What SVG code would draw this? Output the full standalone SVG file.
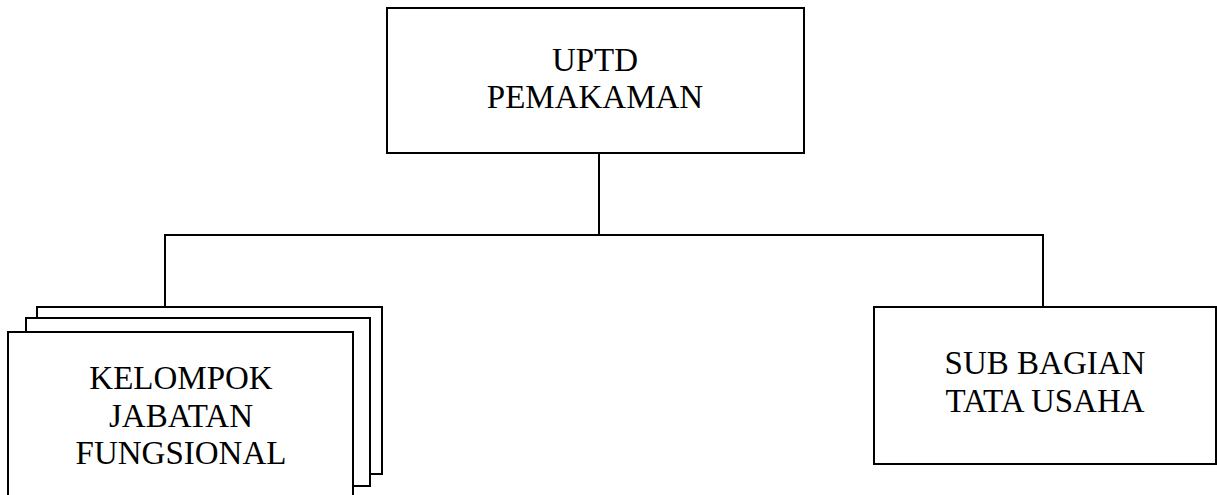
<svg xmlns="http://www.w3.org/2000/svg" width="1217" height="495" viewBox="0 0 1217 495">
<style>
.box{fill:#fff;stroke:#000;stroke-width:2}
.conn{fill:none;stroke:#000;stroke-width:2}
.t{font-family:"Liberation Serif","DejaVu Serif",serif;font-size:33px;fill:#000;text-anchor:middle}
</style>
<rect width="1217" height="495" fill="#fff"/>
<g id="connectors">
<line class="conn" x1="599" y1="153" x2="599" y2="235"/>
<polyline class="conn" points="165,307 165,235 1043,235 1043,307"/>
</g>
<g id="uptd">
<rect class="box" x="387" y="8" width="417" height="145"/>
<text class="t" x="595" y="71">UPTD</text>
<text class="t" x="595" y="108">PEMAKAMAN</text>
</g>
<g id="kelompok">
<rect class="box" x="37" y="307" width="345" height="167"/>
<rect class="box" x="26" y="318" width="344" height="168"/>
<rect class="box" x="8" y="332" width="345" height="175"/>
<text class="t" x="181" y="389">KELOMPOK</text>
<text class="t" x="181" y="427">JABATAN</text>
<text class="t" x="181" y="464">FUNGSIONAL</text>
</g>
<g id="subbagian">
<rect class="box" x="874" y="307" width="342" height="157"/>
<text class="t" x="1045" y="374">SUB BAGIAN</text>
<text class="t" x="1045" y="412">TATA USAHA</text>
</g>
</svg>
